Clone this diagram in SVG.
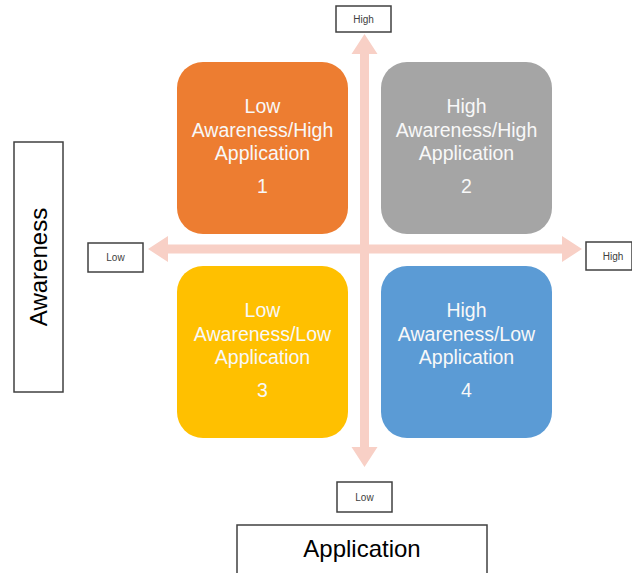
<svg xmlns="http://www.w3.org/2000/svg" width="632" height="573" viewBox="0 0 632 573">
<style>
.q{stroke:none}
.qt{font-family:"Liberation Sans",Arial,sans-serif;font-size:19.5px;fill:#f8f8f8;text-anchor:middle}
.lb{fill:#ffffff;stroke:#404040;stroke-width:1.5}
.lt{font-family:"Liberation Sans",Arial,sans-serif;font-size:10px;fill:#404040;text-anchor:middle}
.ax{font-family:"Liberation Sans",Arial,sans-serif;font-size:24px;fill:#000000;text-anchor:middle}
</style>
<rect width="632" height="573" fill="#ffffff"/>
<g id="connectors">
<path d="M364.5,34 L377.5,54 L369,54 L369,244.5 L562,244.5 L562,236 L582,249 L562,262 L562,253.5 L369,253.5 L369,447 L377.5,447 L364.5,467 L351.5,447 L360,447 L360,253.5 L168,253.5 L168,262 L148,249 L168,236 L168,244.5 L360,244.5 L360,54 L351.5,54 Z" fill="#F8D0C6"/>
</g>
<g id="q1">
<rect class="q" x="177" y="62" width="171" height="172" rx="26" fill="#ED7D31"/>
<text class="qt" x="262.5" y="113">Low</text>
<text class="qt" x="262.5" y="137">Awareness/High</text>
<text class="qt" x="262.5" y="160">Application</text>
<text class="qt" x="262.5" y="193">1</text>
</g>
<g id="q2">
<rect class="q" x="381" y="62" width="171" height="172" rx="26" fill="#A5A5A5"/>
<text class="qt" x="466.5" y="113">High</text>
<text class="qt" x="466.5" y="137">Awareness/High</text>
<text class="qt" x="466.5" y="160">Application</text>
<text class="qt" x="466.5" y="193">2</text>
</g>
<g id="q3">
<rect class="q" x="177" y="266" width="171" height="172" rx="26" fill="#FFC000"/>
<text class="qt" x="262.5" y="317">Low</text>
<text class="qt" x="262.5" y="341">Awareness/Low</text>
<text class="qt" x="262.5" y="364">Application</text>
<text class="qt" x="262.5" y="397">3</text>
</g>
<g id="q4">
<rect class="q" x="381" y="266" width="171" height="172" rx="26" fill="#5B9BD5"/>
<text class="qt" x="466.5" y="317">High</text>
<text class="qt" x="466.5" y="341">Awareness/Low</text>
<text class="qt" x="466.5" y="364">Application</text>
<text class="qt" x="466.5" y="397">4</text>
</g>
<g id="top-high">
<rect class="lb" x="336" y="6" width="55" height="26"/>
<text class="lt" x="363.5" y="23">High</text>
</g>
<g id="left-low">
<rect class="lb" x="88" y="243" width="55" height="29"/>
<text class="lt" x="115.5" y="261">Low</text>
</g>
<g id="right-high">
<rect class="lb" x="586" y="242" width="46" height="28"/>
<text class="lt" x="613" y="260">High</text>
</g>
<g id="bottom-low">
<rect class="lb" x="337" y="482" width="55" height="30"/>
<text class="lt" x="364.5" y="501">Low</text>
</g>
<g id="awareness">
<rect class="lb" x="14" y="142" width="49" height="250"/>
<text class="ax" transform="translate(47,267) rotate(-90)">Awareness</text>
</g>
<g id="application">
<rect class="lb" x="237" y="525" width="250" height="60"/>
<text class="ax" x="362" y="557">Application</text>
</g>
</svg>
